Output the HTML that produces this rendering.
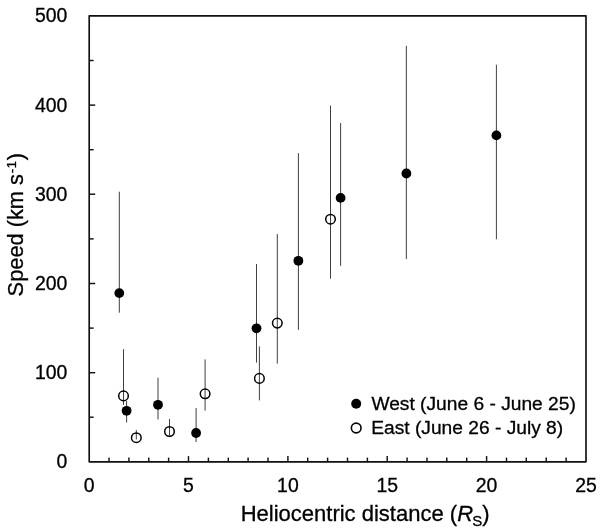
<!DOCTYPE html>
<html><head><meta charset="utf-8"><title>Speed vs heliocentric distance</title>
<style>
html,body{margin:0;padding:0;background:#fff;}
svg{display:block;}
text{font-family:"Liberation Sans",sans-serif;fill:#000;stroke:#000;stroke-width:0.3px;}
</style></head><body>
<svg width="600" height="532" viewBox="0 0 600 532">
<rect x="0" y="0" width="600" height="532" fill="#fff"/>

<g stroke="#2a2a2a" stroke-width="0.9" fill="none">
<line x1="119.30" y1="191.7" x2="119.30" y2="312.7"/>
<line x1="126.60" y1="400.9" x2="126.60" y2="422.5"/>
<line x1="158.00" y1="377.7" x2="158.00" y2="419.5"/>
<line x1="196.10" y1="408.0" x2="196.10" y2="442.0"/>
<line x1="256.50" y1="264.0" x2="256.50" y2="362.6"/>
<line x1="298.40" y1="153.1" x2="298.40" y2="329.9"/>
<line x1="340.60" y1="123.0" x2="340.60" y2="265.8"/>
<line x1="406.35" y1="45.8" x2="406.35" y2="259.1"/>
<line x1="496.40" y1="64.7" x2="496.40" y2="239.3"/>
<line x1="123.50" y1="349.2" x2="123.50" y2="404.8"/>
<line x1="136.30" y1="430.0" x2="136.30" y2="439.5"/>
<line x1="169.50" y1="419.0" x2="169.50" y2="435.5"/>
<line x1="205.10" y1="359.4" x2="205.10" y2="410.6"/>
<line x1="259.40" y1="346.4" x2="259.40" y2="400.4"/>
<line x1="277.30" y1="234.0" x2="277.30" y2="363.6"/>
<line x1="330.50" y1="105.6" x2="330.50" y2="278.7"/>
</g>
<g fill="#000" stroke="none">
<circle cx="119.3" cy="293.1" r="4.9"/>
<circle cx="126.6" cy="410.8" r="4.9"/>
<circle cx="158.0" cy="404.8" r="4.9"/>
<circle cx="196.1" cy="433.0" r="4.9"/>
<circle cx="256.5" cy="328.3" r="4.9"/>
<circle cx="298.4" cy="260.8" r="4.9"/>
<circle cx="340.6" cy="197.9" r="4.9"/>
<circle cx="406.4" cy="173.5" r="4.9"/>
<circle cx="496.4" cy="135.4" r="4.9"/>
</g>
<g fill="none" stroke="#000" stroke-width="1.5">
<circle cx="123.5" cy="395.9" r="4.8"/>
<circle cx="136.3" cy="437.7" r="4.8"/>
<circle cx="169.5" cy="431.5" r="4.8"/>
<circle cx="205.1" cy="393.8" r="4.8"/>
<circle cx="259.4" cy="378.4" r="4.8"/>
<circle cx="277.3" cy="323.1" r="4.8"/>
<circle cx="330.5" cy="219.2" r="4.8"/>
</g>
<rect x="89.2" y="15.8" width="496.8" height="446.0" fill="none" stroke="#101010" stroke-width="1.65" stroke-linejoin="round"/>
<g stroke="#111" stroke-width="1.45">
<line x1="109.0" y1="461.9" x2="109.0" y2="457.6"/>
<line x1="128.9" y1="461.9" x2="128.9" y2="457.6"/>
<line x1="148.8" y1="461.9" x2="148.8" y2="457.6"/>
<line x1="168.6" y1="461.9" x2="168.6" y2="457.6"/>
<line x1="188.5" y1="461.9" x2="188.5" y2="456.1"/>
<line x1="208.4" y1="461.9" x2="208.4" y2="457.6"/>
<line x1="228.3" y1="461.9" x2="228.3" y2="457.6"/>
<line x1="248.1" y1="461.9" x2="248.1" y2="457.6"/>
<line x1="268.0" y1="461.9" x2="268.0" y2="457.6"/>
<line x1="287.9" y1="461.9" x2="287.9" y2="456.1"/>
<line x1="307.7" y1="461.9" x2="307.7" y2="457.6"/>
<line x1="327.6" y1="461.9" x2="327.6" y2="457.6"/>
<line x1="347.5" y1="461.9" x2="347.5" y2="457.6"/>
<line x1="367.4" y1="461.9" x2="367.4" y2="457.6"/>
<line x1="387.2" y1="461.9" x2="387.2" y2="456.1"/>
<line x1="407.1" y1="461.9" x2="407.1" y2="457.6"/>
<line x1="427.0" y1="461.9" x2="427.0" y2="457.6"/>
<line x1="446.8" y1="461.9" x2="446.8" y2="457.6"/>
<line x1="466.7" y1="461.9" x2="466.7" y2="457.6"/>
<line x1="486.6" y1="461.9" x2="486.6" y2="456.1"/>
<line x1="506.5" y1="461.9" x2="506.5" y2="457.6"/>
<line x1="526.3" y1="461.9" x2="526.3" y2="457.6"/>
<line x1="546.2" y1="461.9" x2="546.2" y2="457.6"/>
<line x1="566.1" y1="461.9" x2="566.1" y2="457.6"/>
<line x1="89.2" y1="417.2" x2="93.6" y2="417.2"/>
<line x1="89.2" y1="372.7" x2="95.2" y2="372.7"/>
<line x1="89.2" y1="328.1" x2="93.6" y2="328.1"/>
<line x1="89.2" y1="283.5" x2="95.2" y2="283.5"/>
<line x1="89.2" y1="238.9" x2="93.6" y2="238.9"/>
<line x1="89.2" y1="194.2" x2="95.2" y2="194.2"/>
<line x1="89.2" y1="149.7" x2="93.6" y2="149.7"/>
<line x1="89.2" y1="105.1" x2="95.2" y2="105.1"/>
<line x1="89.2" y1="60.5" x2="93.6" y2="60.5"/>
</g>
<g font-size="19.4px" text-anchor="middle">
<text x="89.2" y="491.6">0</text>
<text x="188.5" y="491.6">5</text>
<text x="287.9" y="491.6">10</text>
<text x="387.2" y="491.6">15</text>
<text x="486.6" y="491.6">20</text>
<text x="586.0" y="491.6">25</text>
</g>
<g font-size="19.4px" text-anchor="end">
<text x="67.4" y="468.4">0</text>
<text x="67.4" y="379.2">100</text>
<text x="67.4" y="290.0">200</text>
<text x="67.4" y="200.8">300</text>
<text x="67.4" y="111.6">400</text>
<text x="67.4" y="22.4">500</text>
</g>
<text x="240.7" y="520.5" font-size="22.0px">Heliocentric distance (<tspan font-style="italic">R</tspan><tspan font-size="15px" dy="5.5" dx="-0.8">S</tspan><tspan dy="-5.5">)</tspan></text>
<text transform="translate(22.9,296.4) rotate(-90)" font-size="21.8px">Speed (km s<tspan font-size="13px" dy="-7" dx="0.8" letter-spacing="0.7">-1</tspan><tspan dy="7">)</tspan></text>
<circle cx="356.2" cy="403.8" r="5.0" fill="#000"/>
<circle cx="356.2" cy="428.0" r="4.85" fill="none" stroke="#000" stroke-width="1.6"/>
<text x="371.4" y="409.6" font-size="19.2px">West (June 6 - June 25)</text>
<text x="371.2" y="434.4" font-size="19.2px">East (June 26 - July 8)</text>
</svg></body></html>
